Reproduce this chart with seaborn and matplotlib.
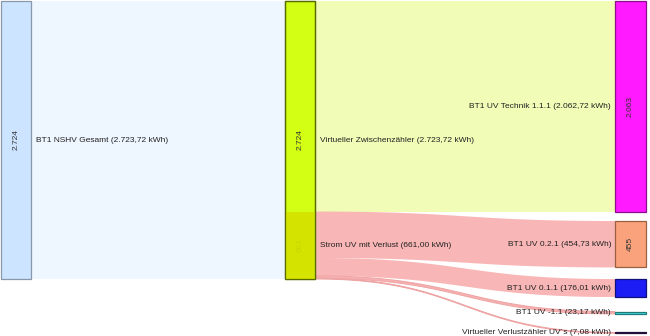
import numpy as np
import matplotlib
matplotlib.use("Agg")
import matplotlib.pyplot as plt
import seaborn as sns
from matplotlib.patches import Rectangle

# ---------------- data ----------------
node_names = ["BT1 NSHV Gesamt", "Virtueller Zwischenzähler", "Strom UV mit Verlust",
              "BT1 UV Technik 1.1.1", "BT1 UV 0.2.1", "BT1 UV 0.1.1",
              "BT1 UV -1.1", "Virtueller Verlustzähler UV´s"]
node_values = [2723.72, 2723.72, 661.00, 2062.72, 454.73, 176.01, 23.17, 7.08]
link_source = [0, 1, 1, 2, 2, 2, 2]
link_target = [1, 3, 2, 4, 5, 6, 7]
link_values = [2723.72, 2062.72, 661.00, 454.73, 176.01, 23.17, 7.08]

# ---------------- style / layout ----------------
node_col = [0, 1, 1, 2, 2, 2, 2, 2]
node_colors = ["#cce4ff", "#d2ff14", "#d4e400", "#ff1aff", "#f9a27c", "#1c1cf5", "#3ee3e3", "#3b1c6e"]
node_edges = ["#8a97a8", "#5a6a00", "none", "#8a108a", "#9a6040", "#10107a", "#207a7a", "#20103a"]
link_colors = ["#eef6ff", "#f1fcb6", "#f9b4b4", "#f9b6b6", "#f9b6b6", "#f7b0b0", "#f5b0b0"]
col_x = [1, 285, 615]
col_w = [30, 30, 31]
right_gaps = [0, 93, 114, 142, 182]  # node padding in the right column (kWh units)
px_per_unit = 278 / 2723.72
FS = 6.0

sns.set_theme(style="white")
plt.rcParams["font.family"] = ["Liberation Sans", "DejaVu Sans"]

fig = plt.figure(figsize=(6.5, 3.36), dpi=100)
ax = fig.add_axes([0, 0, 1, 1])
ax.set_xlim(0, 650)
ax.set_ylim(335 / px_per_unit, -1 / px_per_unit)
ax.axis("off")

def fmt_de(v, dec=2):
    s = f"{v:,.{dec}f}"
    return s.replace(",", "X").replace(".", ",").replace("X", ".")

# node vertical positions (kWh units)
tops = [0.0] * len(node_names)
tops[2] = link_values[1]  # "Strom UV" sits under the Technik outflow
y = 0.0
right_nodes = [i for i in range(len(node_names)) if node_col[i] == 2]
for k, i in enumerate(right_nodes):
    y += right_gaps[k]
    tops[i] = y
    y += node_values[i]

# links
src_off = {i: tops[i] for i in range(len(node_names))}
src_off[1] = 0.0
tgt_off = {i: tops[i] for i in range(len(node_names))}
t = np.linspace(0, 1, 80)
for s, d, v, c in zip(link_source, link_target, link_values, link_colors):
    y0 = src_off[s]; src_off[s] += v
    y1 = tgt_off[d]; tgt_off[d] += v
    if node_col[s] == node_col[d]:
        continue
    x0 = col_x[node_col[s]] + col_w[node_col[s]]
    x1 = col_x[node_col[d]]
    xm = (x0 + x1) / 2
    xs = (1 - t) ** 3 * x0 + 3 * (1 - t) ** 2 * t * xm + 3 * (1 - t) * t ** 2 * xm + t ** 3 * x1
    ease = 3 * t ** 2 - 2 * t ** 3
    top = y0 + (y1 - y0) * ease
    bot = top + v
    poly_x = np.concatenate([xs, xs[::-1]])
    poly_y = np.concatenate([top, bot[::-1]])
    thin = v < 100
    ax.fill(poly_x, poly_y, color=c, lw=0.7 if thin else 0, ec="#eea4a4" if thin else c, zorder=1)

# nodes
for i, name in enumerate(node_names):
    cx = col_x[node_col[i]]
    w = col_w[node_col[i]]
    h = node_values[i]
    ax.add_patch(Rectangle((cx, tops[i]), w, h, facecolor=node_colors[i],
                           edgecolor=node_edges[i], lw=0.9, zorder=3))
# outline of the middle column drawn over the overlapping "Strom UV" node
ax.add_patch(Rectangle((col_x[1], tops[1]), col_w[1], node_values[1], facecolor="none",
                       edgecolor=node_edges[1], lw=0.9, zorder=3.5))

# inner value labels
for i in [0, 1, 3, 4]:
    cx = col_x[node_col[i]] + col_w[node_col[i]] / 2
    ax.text(cx, tops[i] + node_values[i] / 2, fmt_de(node_values[i], 0).replace(",", "."),
            rotation=90, ha="center", va="center", fontsize=FS, color="#333333", zorder=4)
ax.text(col_x[1] + col_w[1] / 2, tops[2] + node_values[2] / 2, fmt_de(node_values[2], 0),
        rotation=90, ha="center", va="center", fontsize=FS, color="#c8d800", zorder=4)

# name labels
for i, name in enumerate(node_names):
    label = f"{name} ({fmt_de(node_values[i])} kWh)"
    yc = tops[i] + node_values[i] / 2
    if node_col[i] < 2:
        ax.text(col_x[node_col[i]] + col_w[node_col[i]] + 5, yc, label,
                ha="left", va="center", fontsize=FS, color="#222222", zorder=5)
    else:
        ax.text(col_x[2] - 4, yc, label, ha="right", va="center",
                fontsize=FS, color="#222222", zorder=5)

fig.savefig("out.png", dpi=100)
